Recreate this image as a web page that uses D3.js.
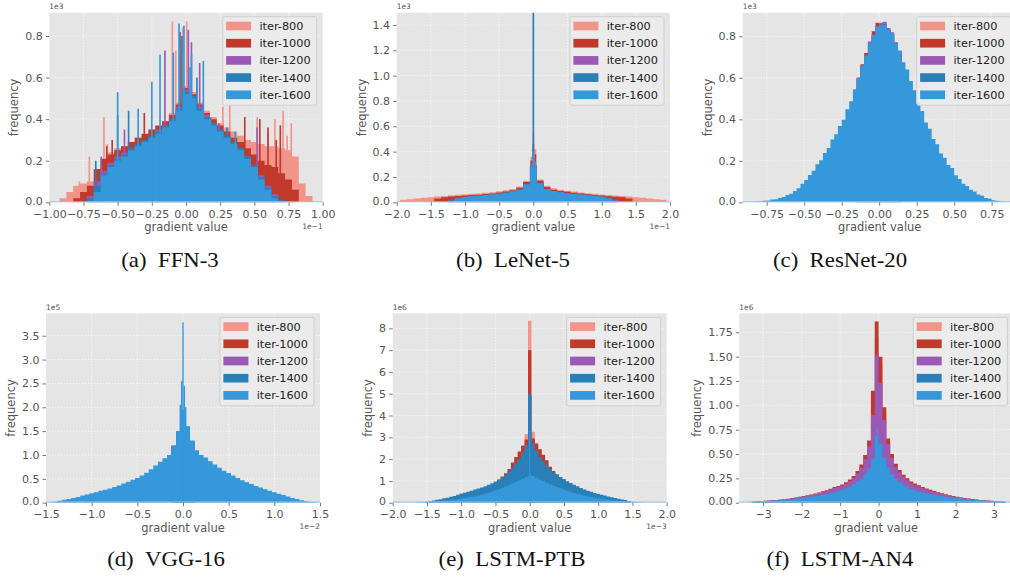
<!DOCTYPE html>
<html><head><meta charset="utf-8">
<script src="https://cdn.jsdelivr.net/npm/d3@7"></script>
<style>
html,body{margin:0;padding:0;background:#fff;}
svg{display:block;}
</style></head><body>
<svg id="chart" width="1010" height="578"></svg>
<script>
// ---------------- DATA ----------------
const seriesNames = ["iter-800","iter-1000","iter-1200","iter-1400","iter-1600"];
const captionLabels = ["(a)","(b)","(c)","(d)","(e)","(f)"];
const captionNames = ["FFN-3","LeNet-5","ResNet-20","VGG-16","LSTM-PTB","LSTM-AN4"];
const yOffsets = ["1e3","1e3","1e3","1e5","1e6","1e6"];
const xOffsets = ["1e\u22121","1e\u22121","","1e\u22122","1e\u22123",""];

// (a) FFN-3 : x in 1e-1, frequency in 1e3
const ffnXTicks = [-1,-0.75,-0.5,-0.25,0,0.25,0.5,0.75,1];
const ffnYTicks = [0,0.2,0.4,0.6,0.8];
const ffnBinW = 0.05;
const ffnStart = [-0.925,-0.825,-0.725,-0.725,-0.675];
const ffn800 = [0.02,0.05,0.08,0.09,0.10,0.14,0.20,0.24,0.26,0.27,0.29,0.31,0.32,0.34,0.36,0.39,0.43,0.48,0.56,0.53,0.48,0.44,0.41,0.38,0.36,0.34,0.32,0.30,0.29,0.28,0.27,0.27,0.26,0.25,0.22,0.09,0.03];
const ffn1000 = [0.02,0.05,0.08,0.16,0.21,0.23,0.25,0.27,0.29,0.31,0.33,0.35,0.37,0.39,0.42,0.47,0.55,0.52,0.47,0.43,0.40,0.37,0.34,0.31,0.29,0.26,0.23,0.20,0.18,0.17,0.14,0.11,0.06];
const ffn1200 = [0.03,0.10,0.15,0.19,0.22,0.24,0.26,0.28,0.30,0.32,0.35,0.37,0.40,0.46,0.54,0.51,0.46,0.42,0.38,0.35,0.32,0.29,0.26,0.22,0.18,0.13,0.08,0.04,0.01];
const ffn1400 = [0.02,0.08,0.14,0.18,0.21,0.23,0.26,0.28,0.30,0.32,0.34,0.37,0.40,0.45,0.53,0.51,0.45,0.41,0.38,0.35,0.32,0.29,0.26,0.22,0.18,0.12,0.07,0.03,0.01];
const ffn1600 = [0.05,0.13,0.17,0.20,0.22,0.25,0.27,0.29,0.31,0.33,0.36,0.39,0.44,0.52,0.50,0.44,0.40,0.37,0.34,0.31,0.28,0.25,0.21,0.17,0.11,0.06,0.02];
const ffnSpikeW = 0.012;
const ffnSpk800 = [[-0.78,0.10],[-0.707,0.22],[-0.6,0.41],[-0.576,0.28],[-0.1,0.87],[-0.075,0.73],[-0.024,0.84],[0.005,0.87],[0.27,0.46],[0.32,0.49],[0.52,0.41],[0.6,0.33],[0.65,0.40],[0.71,0.44],[0.74,0.32],[0.77,0.38]];
const ffnSpk1000 = [[-0.63,0.155],[-0.58,0.27],[-0.54,0.30],[-0.305,0.43],[-0.044,0.82],[0.43,0.41],[0.54,0.40],[0.6,0.36],[0.66,0.30],[0.69,0.37]];
const ffnSpk1200 = [[-0.62,0.22],[-0.45,0.35],[-0.154,0.73],[0.017,0.83],[0.04,0.77],[0.1,0.67],[0.24,0.38],[0.52,0.36]];
const ffnSpk1400 = [[-0.66,0.20],[-0.5,0.42],[-0.42,0.44],[-0.03,0.80],[0.08,0.60],[0.3,0.36]];
const ffnSpk1600 = [[-0.5,0.53],[-0.35,0.45],[-0.25,0.58],[-0.19,0.71],[-0.093,0.72],[-0.051,0.86],[-0.015,0.85],[0.03,0.65],[0.04,0.71],[0.127,0.68],[0.18,0.41],[0.36,0.34]];

// (b) LeNet-5 : x in 1e-1, frequency in 1e3
const lenetXTicks = [-2,-1.5,-1,-0.5,0,0.5,1,1.5,2];
const lenetYTicks = [0,0.2,0.4,0.6,0.8,1.0,1.2,1.4];
const lenetBinW = 0.1;
const lenetStart = [-1.95,-1.45,-1.25,-1.25,-1.15];
const lenet800 = [0.02,0.025,0.03,0.035,0.04,0.045,0.05,0.055,0.06,0.063,0.067,0.07,0.075,0.08,0.088,0.095,0.105,0.125,0.17,0.30,0.18,0.13,0.11,0.10,0.092,0.085,0.078,0.072,0.067,0.062,0.058,0.054,0.05,0.046,0.04,0.035,0.03,0.025,0.02];
const lenet1000 = [0.03,0.04,0.045,0.05,0.053,0.057,0.06,0.065,0.07,0.078,0.085,0.095,0.115,0.16,0.29,0.17,0.12,0.10,0.09,0.083,0.076,0.07,0.064,0.058,0.053,0.048,0.044,0.04,0.03];
const lenet1200 = [0.02,0.035,0.043,0.048,0.053,0.058,0.063,0.069,0.076,0.086,0.10,0.145,0.28,0.155,0.105,0.09,0.08,0.073,0.067,0.061,0.056,0.051,0.045,0.036,0.02];
const lenet1400 = [0.015,0.032,0.042,0.047,0.052,0.057,0.062,0.068,0.075,0.085,0.10,0.14,0.27,0.15,0.105,0.09,0.08,0.072,0.066,0.06,0.055,0.05,0.044,0.034,0.015];
const lenet1600 = [0.03,0.042,0.047,0.052,0.057,0.062,0.068,0.075,0.085,0.10,0.14,0.27,0.15,0.105,0.09,0.08,0.072,0.066,0.06,0.055,0.05,0.044,0.03];
const lenetSpikeW = 0.025;
const lenetSpk800 = [[-0.03,0.36],[0,0.55],[0.03,0.42]];
const lenetSpk1000 = [[-0.03,0.33],[0,0.46],[0.03,0.38]];
const lenetSpk1200 = [[0,0.42]];
const lenetSpk1400 = [[0,1.6]];
const lenetSpk1600 = [[-0.03,0.30],[0,0.40],[0.03,0.32]];

// (c) ResNet-20 : frequency in 1e3
const resnetXTicks = [-0.75,-0.5,-0.25,0,0.25,0.5,0.75];
const resnetYTicks = [0,0.2,0.4,0.6,0.8];
const resnetBinW = 0.025;
const resnetStart = [-0.15,-0.15,-0.15,-0.15,-0.85];
const resnet800 = [0.59,0.65,0.70,0.76,0.80,0.84,0.85,0.85,0.825,0.81,0.76,0.72];
const resnet1000 = [0.60,0.665,0.72,0.77,0.825,0.865,0.86,0.85,0.835,0.81,0.77,0.725];
const resnet1200 = [0.60,0.66,0.71,0.775,0.81,0.85,0.865,0.87,0.84,0.82,0.77,0.73];
const resnet1400 = [0.595,0.655,0.70,0.76,0.80,0.84,0.85,0.86,0.83,0.81,0.76,0.72];
const resnet1600 = [0.002,0.003,0.005,0.008,0.009,0.013,0.015,0.021,0.026,0.035,0.041,0.055,0.068,0.09,0.108,0.132,0.152,0.183,0.203,0.238,0.262,0.303,0.328,0.368,0.398,0.448,0.487,0.545,0.597,0.66,0.705,0.765,0.805,0.845,0.852,0.855,0.83,0.815,0.765,0.73,0.675,0.64,0.585,0.54,0.48,0.44,0.385,0.355,0.305,0.28,0.235,0.215,0.18,0.165,0.13,0.112,0.09,0.079,0.06,0.052,0.038,0.031,0.021,0.017,0.01,0.007,0.004,0.002];

// (d) VGG-16 : x in 1e-2, frequency in 1e5
const vggXTicks = [-1.5,-1,-0.5,0,0.5,1,1.5];
const vggYTicks = [0,0.5,1,1.5,2,2.5,3,3.5];
const vggBinW = 0.05;
const vggStart = [-0.125,-0.125,-0.125,-0.125,-1.475];
const vgg800 = [1.18,1.47,1.92,1.57,1.28];
const vgg1000 = [1.19,1.48,1.93,1.58,1.29];
const vgg1200 = [1.19,1.49,1.94,1.59,1.29];
const vgg1400 = [1.20,1.49,1.94,1.59,1.30];
const vgg1600 = [0.01,0.02,0.04,0.06,0.08,0.10,0.12,0.15,0.17,0.20,0.22,0.25,0.27,0.30,0.33,0.36,0.40,0.44,0.48,0.52,0.57,0.63,0.70,0.78,0.86,0.93,1.00,1.20,1.50,1.95,1.60,1.30,1.10,1.00,0.95,0.87,0.80,0.73,0.67,0.62,0.57,0.52,0.47,0.43,0.39,0.35,0.32,0.28,0.25,0.22,0.19,0.16,0.13,0.10,0.08,0.05,0.03,0.015,0.005];
const vggSpikeW = 0.015;
const vggSpk1600 = [[-0.03,2.05],[-0.015,2.55],[0,3.78],[0.015,2.45],[0.03,2.0]];

// (e) LSTM-PTB : x in 1e-3, frequency in 1e6
const ptbXTicks = [-2,-1.5,-1,-0.5,0,0.5,1,1.5,2];
const ptbYTicks = [0,1,2,3,4,5,6,7,8];
const ptbBinW = 0.05;
const ptbStart = [-0.225,-0.525,-0.225,-1.475,-1.675];
const ptb800 = [2.05,2.30,2.65,3.15,8.35,3.25,2.75,2.45,2.15];
const ptb1000 = [0.96,1.07,1.20,1.35,1.55,1.85,2.10,2.35,2.60,2.90,7.0,2.95,2.70,2.45,2.20,1.95,1.65,1.45,1.30,1.18,1.08];
const ptb1200 = [1.80,2.00,2.28,2.60,4.9,2.65,2.38,2.05,1.85];
const ptb1400 = [0.07,0.10,0.13,0.16,0.20,0.23,0.27,0.31,0.36,0.42,0.46,0.50,0.55,0.60,0.65,0.70,0.76,0.82,0.89,0.96,1.05,1.15,1.27,1.42,1.62,1.82,2.02,2.30,2.65,5.0,2.70,2.40,2.10,1.90,1.72,1.55,1.40,1.28,1.18,1.08,0.98,0.90,0.82,0.75,0.68,0.61,0.55,0.50,0.45,0.41,0.37,0.33,0.29,0.25,0.21,0.18,0.15,0.12,0.08];
const ptb1600 = [0.01,0.02,0.03,0.04,0.05,0.06,0.07,0.08,0.10,0.11,0.13,0.15,0.17,0.19,0.21,0.24,0.27,0.30,0.33,0.37,0.41,0.46,0.51,0.56,0.62,0.68,0.74,0.81,0.88,0.95,1.02,1.10,1.18,1.25,1.22,1.14,1.06,0.99,0.92,0.85,0.78,0.72,0.66,0.60,0.55,0.50,0.45,0.40,0.36,0.32,0.29,0.26,0.23,0.20,0.18,0.16,0.14,0.12,0.10,0.09,0.07,0.06,0.05,0.04,0.03,0.02,0.01];
const ptbSpikeW = 0.015;
const ptbSpk1600 = [[0,3.3]];

// (f) LSTM-AN4 : frequency in 1e6
const an4XTicks = [-3,-2,-1,0,1,2,3];
const an4YTicks = [0,0.25,0.5,0.75,1,1.25,1.5,1.75];
const an4BinW = 0.1;
const an4Start = [-0.5,-3.3,-3.3,-0.5,-3.3];
const an4_800 = [0.37,0.46,0.60,1.05,1.70,1.40,0.92,0.62,0.48,0.38];
const an4_1000 = [0.011,0.014,0.016,0.019,0.022,0.025,0.028,0.032,0.036,0.041,0.047,0.053,0.060,0.068,0.076,0.085,0.095,
  0.106,0.117,0.128,0.144,0.160,0.172,0.188,0.210,0.238,0.275,0.325,0.392,0.490,0.640,1.150,1.860,
  1.500,0.980,0.660,0.500,0.400,0.335,0.287,0.250,0.218,0.196,0.178,0.162,0.146,0.132,0.119,0.107,
  0.096,0.086,0.077,0.069,0.061,0.054,0.047,0.042,0.037,0.032,0.028,0.025,0.022,0.019,0.016,0.014,0.011];
const an4_1200 = [0.010,0.013,0.015,0.017,0.020,0.023,0.026,0.030,0.034,0.039,0.044,0.050,0.057,0.064,0.072,0.080,0.090,
  0.100,0.110,0.120,0.135,0.150,0.160,0.175,0.195,0.220,0.255,0.300,0.360,0.450,0.580,0.900,1.520,
  1.230,0.850,0.600,0.460,0.370,0.310,0.265,0.230,0.200,0.180,0.165,0.150,0.135,0.122,0.110,0.100,
  0.090,0.080,0.072,0.064,0.057,0.050,0.044,0.039,0.034,0.030,0.026,0.023,0.020,0.017,0.015,0.013,0.010];
const an4_1400 = [0.24,0.28,0.34,0.44,0.66,0.58,0.45,0.35,0.28,0.24];
const an4_1600 = [0.010,0.012,0.014,0.015,0.017,0.019,0.022,0.025,0.028,0.031,0.035,0.040,0.045,0.050,0.055,0.060,0.066,0.072,0.080,0.088,0.097,0.107,0.118,0.130,0.145,0.165,0.190,0.215,0.245,0.290,0.350,0.450,0.680,0.600,0.460,0.360,0.290,0.245,0.210,0.185,0.160,0.140,0.125,0.115,0.105,0.095,0.087,0.080,0.073,0.066,0.060,0.055,0.050,0.046,0.042,0.038,0.034,0.030,0.027,0.024,0.021,0.018,0.016,0.014,0.012,0.010];
const an4SpikeW = 0.03;
const an4Spk1600 = [[-0.03,0.76]];

// ---------------- STYLE / LAYOUT ----------------
const seriesColors = ["#F1948A","#C0392B","#9B59B6","#2980B9","#3498DB"];
const layout = [
  {left:49.3, top:12.7, w:273.4, h:189.6, xDom:[-1,1], yDom:[0,0.912], fx:".2f", fy:".1f"},
  {left:396.7, top:12.7, w:273.3, h:189.6, xDom:[-2,2], yDom:[0,1.497], fx:".1f", fy:".1f"},
  {left:742.7, top:12.7, w:274, h:189.6, xDom:[-0.91,0.917], yDom:[0,0.914], fx:".2f", fy:".1f"},
  {left:46, top:313.3, w:274, h:189.4, xDom:[-1.5,1.5], yDom:[0,3.97], fx:".1f", fy:".1f"},
  {left:392.7, top:313.3, w:274, h:189.4, xDom:[-2,2], yDom:[0,8.69], fx:".1f", fy:"d"},
  {left:739.3, top:313.3, w:274, h:189.4, xDom:[-3.62,3.5], yDom:[0,1.945], fx:"d", fy:".2f"}
];
const captionPos = [[170,267],[513,267],[840,267],[166,566],[512,566],[840,566]];

const panels = [
  {series:[ffn800,ffn1000,ffn1200,ffn1400,ffn1600], starts:ffnStart, bw:ffnBinW,
   spikes:[ffnSpk800,ffnSpk1000,ffnSpk1200,ffnSpk1400,ffnSpk1600], sw:ffnSpikeW, xt:ffnXTicks, yt:ffnYTicks},
  {series:[lenet800,lenet1000,lenet1200,lenet1400,lenet1600], starts:lenetStart, bw:lenetBinW,
   spikes:[lenetSpk800,lenetSpk1000,lenetSpk1200,lenetSpk1400,lenetSpk1600], sw:lenetSpikeW, xt:lenetXTicks, yt:lenetYTicks},
  {series:[resnet800,resnet1000,resnet1200,resnet1400,resnet1600], starts:resnetStart, bw:resnetBinW,
   spikes:[[],[],[],[],[]], sw:0, xt:resnetXTicks, yt:resnetYTicks},
  {series:[vgg800,vgg1000,vgg1200,vgg1400,vgg1600], starts:vggStart, bw:vggBinW,
   spikes:[[],[],[],[],vggSpk1600], sw:vggSpikeW, xt:vggXTicks, yt:vggYTicks},
  {series:[ptb800,ptb1000,ptb1200,ptb1400,ptb1600], starts:ptbStart, bw:ptbBinW,
   spikes:[[],[],[],[],ptbSpk1600], sw:ptbSpikeW, xt:ptbXTicks, yt:ptbYTicks},
  {series:[an4_800,an4_1000,an4_1200,an4_1400,an4_1600], starts:an4Start, bw:an4BinW,
   spikes:[[],[],[],[],an4Spk1600], sw:an4SpikeW, xt:an4XTicks, yt:an4YTicks}
];

// ---------------- DRAW ----------------
const svg = d3.select("#chart");
const FONT = "DejaVu Sans, sans-serif";
const TXT = "#555555";

function stepPath(xs, ys, start, bw, vals) {
  const p = d3.path();
  p.moveTo(xs(start), ys(0));
  vals.forEach((v, j) => {
    const a = start + j * bw, b = a + bw;
    p.lineTo(xs(a), ys(v));
    p.lineTo(xs(b), ys(v));
  });
  p.lineTo(xs(start + vals.length * bw), ys(0));
  p.closePath();
  return p.toString();
}

panels.forEach((P, k) => {
  const L = layout[k];
  const g = svg.append("g").attr("transform", `translate(${L.left},${L.top})`);
  const xs = d3.scaleLinear().domain(L.xDom).range([0, L.w]);
  const ys = d3.scaleLinear().domain(L.yDom).range([L.h, 0]);
  const clipId = "clip" + k;
  g.append("clipPath").attr("id", clipId).append("rect").attr("width", L.w).attr("height", L.h);

  g.append("rect").attr("width", L.w).attr("height", L.h).attr("fill", "#E5E5E5");

  // grid
  const grid = g.append("g").attr("stroke", "#ffffff").attr("stroke-width", 0.9).attr("stroke-dasharray", "1,2");
  P.xt.forEach(t => { const x = xs(t); if (x > 0.5 && x < L.w - 0.5) grid.append("line").attr("x1", x).attr("x2", x).attr("y1", 0).attr("y2", L.h); });
  P.yt.forEach(t => { const y = ys(t); if (y > 0.5 && y < L.h - 0.5) grid.append("line").attr("x1", 0).attr("x2", L.w).attr("y1", y).attr("y2", y); });

  const bars = g.append("g").attr("clip-path", `url(#${clipId})`);
  P.series.forEach((vals, i) => {
    bars.append("path").attr("d", stepPath(xs, ys, P.starts[i], P.bw, vals)).attr("fill", seriesColors[i]);
    bars.selectAll(null).data(P.spikes[i]).enter().append("rect")
      .attr("x", d => xs(d[0] - P.sw / 2))
      .attr("width", d => xs(d[0] + P.sw / 2) - xs(d[0] - P.sw / 2))
      .attr("y", d => ys(d[1]))
      .attr("height", d => ys(0) - ys(d[1]))
      .attr("fill", seriesColors[i]);
  });
  bars.append("line").attr("x1", 0).attr("x2", L.w).attr("y1", L.h - 0.5).attr("y2", L.h - 0.5)
    .attr("stroke", "#93c6ea").attr("stroke-width", 1.2);

  // axes
  const xa = g.append("g").attr("transform", `translate(0,${L.h})`)
    .call(d3.axisBottom(xs).tickValues(P.xt).tickFormat(d3.format(L.fx)).tickSize(3.5).tickPadding(4.2));
  const ya = g.append("g")
    .call(d3.axisLeft(ys).tickValues(P.yt).tickFormat(d3.format(L.fy)).tickSize(3.5).tickPadding(3.1));
  [xa, ya].forEach(a => {
    a.select(".domain").remove();
    a.attr("font-family", FONT).attr("font-size", 11);
    a.selectAll(".tick line").attr("stroke", TXT).attr("stroke-width", 0.8);
    a.selectAll(".tick text").attr("fill", TXT);
  });
  // the lowest y tick label sits a touch higher so it clears the first x tick label
  ya.selectAll(".tick").filter(d => d === 0).select("text").attr("dy", "0.2em");

  // axis labels
  g.append("text").attr("x", L.w / 2).attr("y", L.h + 29).attr("text-anchor", "middle")
    .attr("font-family", FONT).attr("font-size", 11.5).attr("fill", TXT).text("gradient value");
  const bb = ya.node().getBBox();
  g.append("text").attr("transform", `translate(${bb.x - 7},${L.h / 2}) rotate(-90)`).attr("text-anchor", "middle")
    .attr("font-family", FONT).attr("font-size", 11.5).attr("fill", TXT).text("frequency");

  // offset texts
  g.append("text").attr("x", 0).attr("y", -3.5).attr("font-family", FONT).attr("font-size", 7.5)
    .attr("fill", TXT).text(yOffsets[k]);
  if (xOffsets[k]) g.append("text").attr("x", L.w).attr("y", L.h + 26.5).attr("text-anchor", "end")
    .attr("font-family", FONT).attr("font-size", 7.5).attr("fill", TXT).text(xOffsets[k]);

  // legend
  const lg = g.append("g").attr("transform", `translate(${L.w - 6 - 94},4)`);
  lg.append("rect").attr("width", 94).attr("height", 88.5).attr("rx", 2)
    .attr("fill", "#EBEBEB").attr("fill-opacity", 0.92).attr("stroke", "#CFCFCF").attr("stroke-width", 1);
  seriesNames.forEach((n, i) => {
    const cy = 9.3 + i * 17.2;
    lg.append("rect").attr("x", 3.4).attr("y", cy - 4.35).attr("width", 25).attr("height", 8.7).attr("fill", seriesColors[i]);
    lg.append("text").attr("x", 36.7).attr("y", cy + 4.1).attr("font-family", FONT).attr("font-size", 11.3)
      .attr("fill", "#222").text(n);
  });
});

// captions
captionNames.forEach((n, k) => {
  svg.append("text").attr("transform", `translate(${captionPos[k][0]},${captionPos[k][1]}) scale(1.14,1)`)
    .attr("text-anchor", "middle").attr("font-family", "Liberation Serif, 'Times New Roman', serif")
    .attr("font-size", 20).attr("fill", "#111").text(captionLabels[k] + "\u2002" + n);
});
</script>
</body></html>
